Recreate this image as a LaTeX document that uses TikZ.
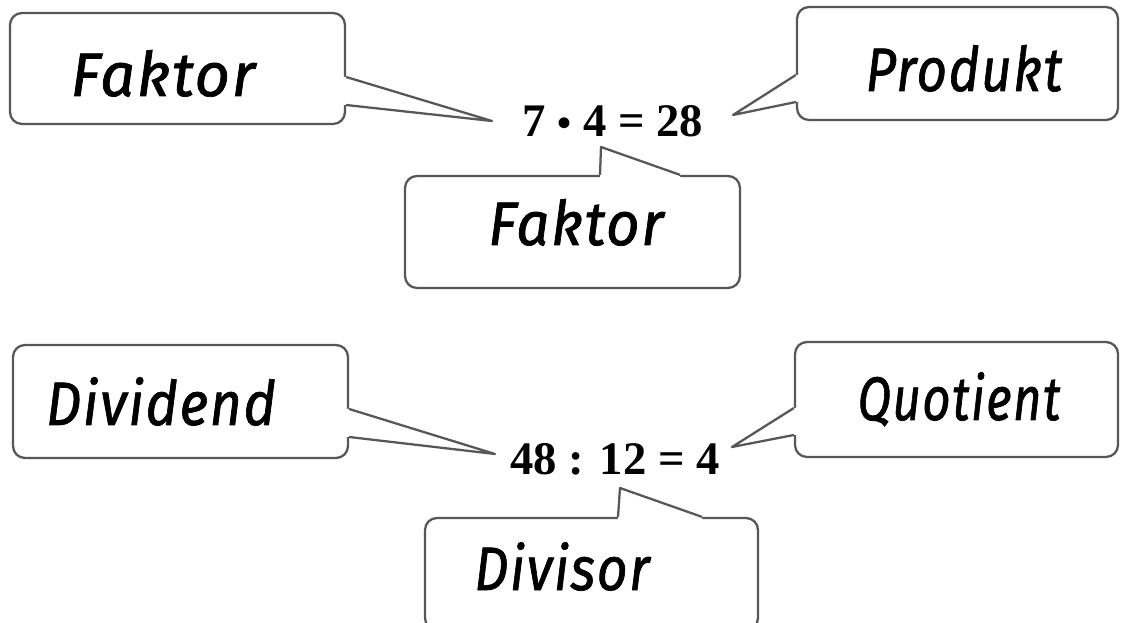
\documentclass[tikz,border=0pt]{standalone}
\usepackage{fontspec}
\setmainfont{Liberation Serif}
\newfontfamily\hand{Fira Sans}[LetterSpace=3,FakeBold=1.2]
\usetikzlibrary{fit,calc}
\tikzset{
  boxline/.style={draw=black!66, line width=1.7pt, line join=round},
  callbox/.style={boxline, rounded corners=9pt, inner sep=0pt, fill=white},
  handtext/.style={font=\hand\itshape\fontsize{46}{48}\selectfont, anchor=base, inner sep=0pt, text=black},
  eqtext/.style={font=\bfseries\fontsize{35}{38}\selectfont, anchor=base, inner sep=0pt, text=black}
}
\newcommand\calltip[4]{%
  \fill[white] ($(#1)+(#4)$) -- (#1) -- (#2) -- (#3) -- ($(#3)+(#4)$) -- cycle;
  \draw[boxline] (#1) -- (#2) -- (#3);}
\begin{document}
\begin{tikzpicture}[x=0.75pt,y=-0.75pt]
\useasboundingbox[fill=white] (0,0) rectangle (1122,623);
% equations
\node[eqtext] (e1) at (613,137) {7 {\fontsize{30}{30}\selectfont•} 4 = 28};
\node[eqtext] (e2) at (615,475) {48 : 12 = 4};
% boxes
\node[callbox, fit={(10,13) (345,124)}] (b1) {};
\node[callbox, fit={(797,7) (1118,120)}] (b2) {};
\node[callbox, fit={(405,176) (740,288)}] (b3) {};
\node[callbox, fit={(13,345) (348,458)}] (b4) {};
\node[callbox, fit={(795,342) (1118,457)}] (b5) {};
\node[callbox, fit={(425,518) (758,630)}] (b6) {};
% tips
\coordinate (t1) at (492,121);
\coordinate (t2) at (733,115);
\coordinate (t3) at (601,147);
\coordinate (t4) at (495,454);
\coordinate (t5) at (732,447);
\coordinate (t6) at (620,488);
\calltip{b1.east |- 0,77}{t1}{b1.east |- 0,105}{-3,0}
\calltip{b2.west |- 0,75}{t2}{b2.west |- 0,102}{3,0}
\calltip{b3.north -| 600,0}{t3}{b3.north -| 680,0}{0,3}
\calltip{b4.east |- 0,409}{t4}{b4.east |- 0,437}{-3,0}
\calltip{b5.west |- 0,408}{t5}{b5.west |- 0,435}{3,0}
\calltip{b6.north -| 618,0}{t6}{b6.north -| 702,0}{0,3}
% labels
\node[handtext] (l1) at (163,96) {Faktor};
\node[handtext] (l2) at (964,91) {\scalebox{0.86}[1]{Produkt}};
\node[handtext] (l3) at (576,245) {\scalebox{0.95}[1]{Faktor}};
\node[handtext] (l4) at (161,425) {\scalebox{0.9}[1]{Dividend}};
\node[handtext] (l5) at (959,420) {\scalebox{0.8}[1]{Quotient}};
\node[handtext] (l6) at (562,590) {\scalebox{0.87}[1]{Divisor}};
\end{tikzpicture}
\end{document}
